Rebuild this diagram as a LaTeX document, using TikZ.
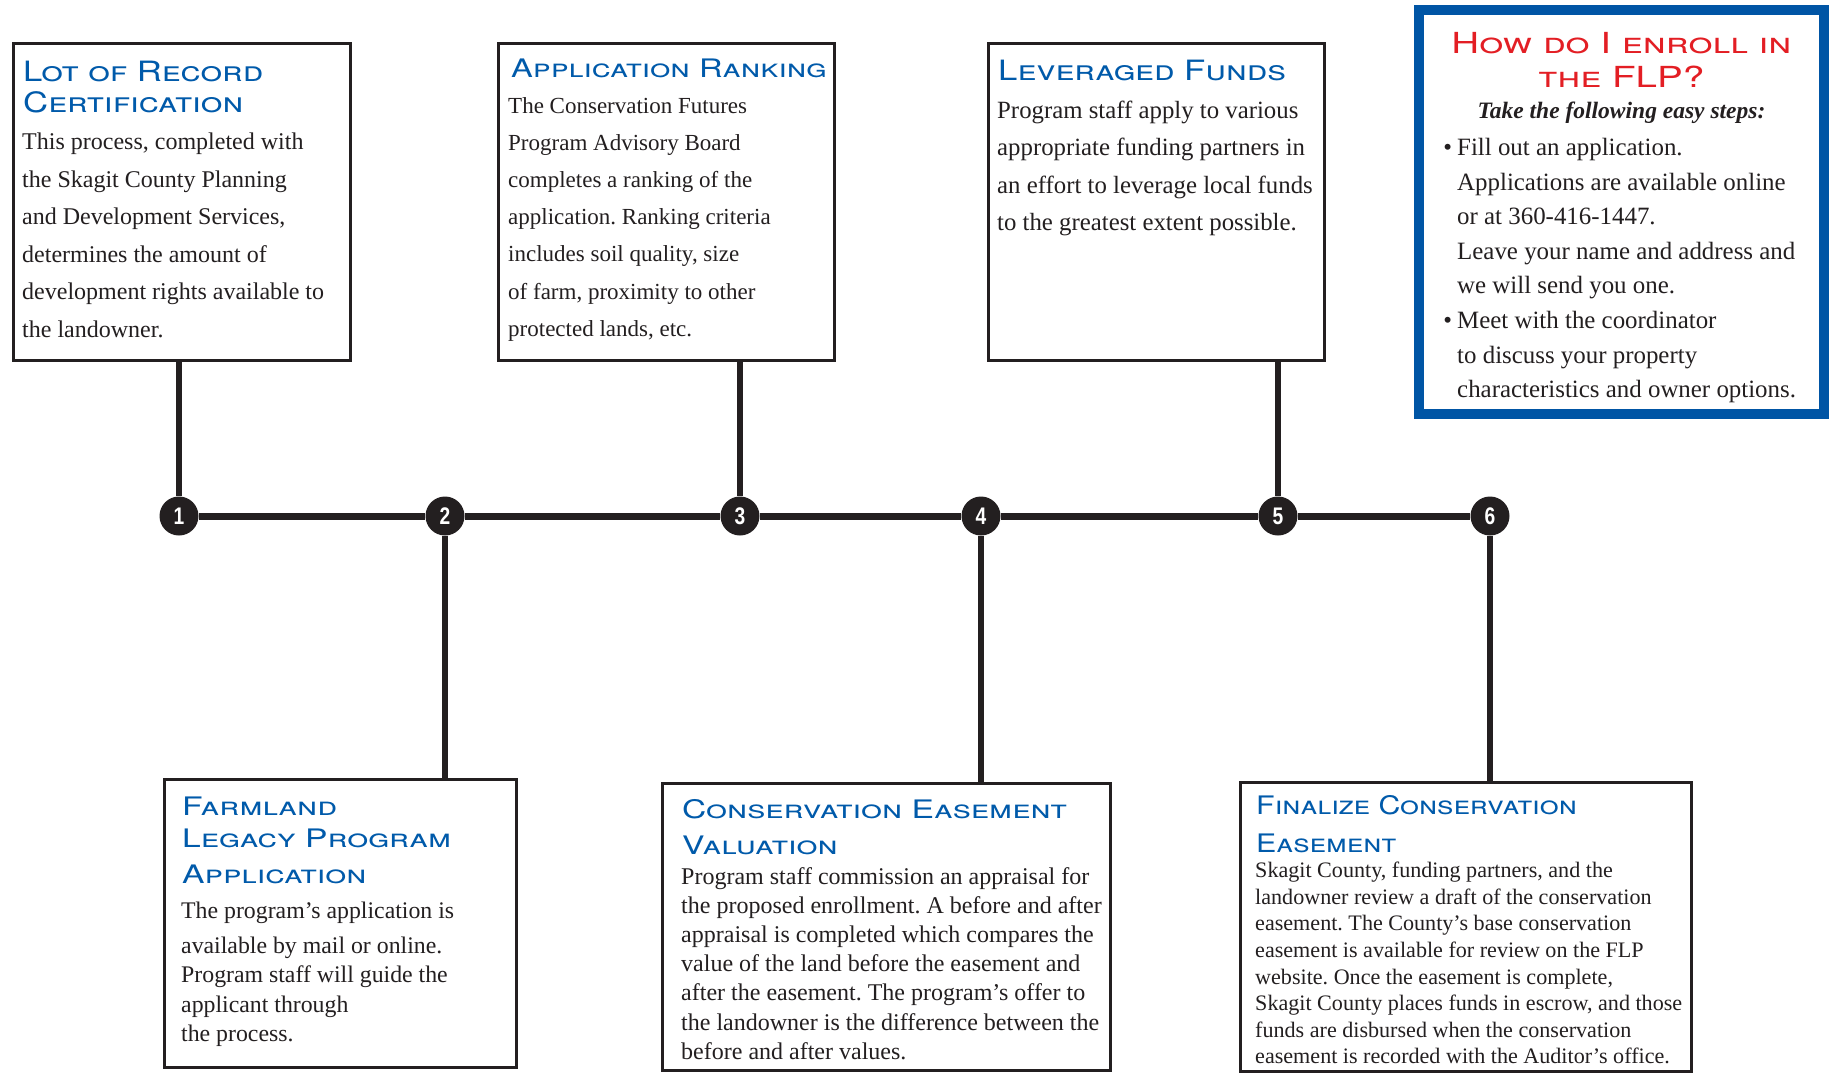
\documentclass[tikz,border=0pt]{standalone}
\usepackage{fontspec}
\setmainfont{Liberation Serif}
\newfontfamily\headfont{TeX Gyre Heros}
\newfontfamily\numfont[FakeStretch=0.8]{Liberation Sans}
\usetikzlibrary{positioning}

\definecolor{ink}{RGB}{35,31,32}
\definecolor{headblue}{RGB}{0,90,170}
\definecolor{flpblue}{RGB}{0,85,165}
\definecolor{flpred}{RGB}{227,30,36}

% wide small caps for the headings: stretch, size, line skip
\newcommand\headsc[3]{\headfont\addfontfeature{FakeStretch=#1}\scshape\fontsize{#2}{#3}\selectfont}

\tikzset{
  stepbox/.style={rectangle, draw=ink, line width=3pt, fill=white, inner sep=0pt},
  head/.style={anchor=north west, align=left, inner sep=0pt, text=headblue},
  body/.style={anchor=north west, align=left, inner sep=0pt, text=ink},
  dot/.style={circle, fill=ink, minimum size=39pt, inner sep=0pt, text=white,
    font=\numfont\bfseries\fontsize{24}{24}\selectfont},
  link/.style={draw=ink, line width=6pt},
}

\begin{document}
\frenchspacing
\begin{tikzpicture}[x=1pt, y=-1pt]
    \useasboundingbox (0,0) rectangle (1837,1077);

    % time line
    \foreach \n/\x in {1/179, 2/445, 3/740, 4/981, 5/1278, 6/1490}
        \node[dot] (c\n) at (\x,516) {\n};
    \foreach \a/\b in {1/2, 2/3, 3/4, 4/5, 5/6}
        \draw[link, line width=7pt] (c\a) -- (c\b);

    % boxes above
    \node[stepbox, minimum width=337pt, minimum height=317pt] (b1) at (182,202) {};
    \node[stepbox, minimum width=336pt, minimum height=317pt] (b3) at (666.5,202) {};
    \node[stepbox, minimum width=336pt, minimum height=317pt] (b5) at (1156.5,202) {};
    % boxes below
    \node[stepbox, minimum width=352pt, minimum height=288pt] (b2) at (340.5,923.5) {};
    \node[stepbox, minimum width=448pt, minimum height=287pt] (b4) at (886.5,927) {};
    \node[stepbox, minimum width=451pt, minimum height=289pt] (b6) at (1466,927) {};

    \foreach \n in {1,3,5} \draw[link] (c\n) -- (c\n |- b\n.south);
    \foreach \n in {2,4,6} \draw[link] (c\n) -- (c\n |- b\n.north);

    % 1
    \node[head, font=\headsc{1.24}{28}{31}] (h1) at (23,61)
        {Lot of Record\\Certification};
    \node[body, font=\fontsize{24}{37.5}\selectfont] (t1) at (22,133)
        {This process, completed with\\the Skagit County Planning\\and Development Services,\\
         determines the amount of\\development rights available to\\the landowner.};
    % 3
    \node[head, font=\headsc{1.28}{25.5}{31}] (h3) at (511,59)
        {Application Ranking};
    \node[body, font=\fontsize{23}{37.2}\selectfont] (t3) at (508,97)
        {The Conservation Futures\\Program Advisory Board\\completes a ranking of the\\
         application. Ranking criteria\\includes soil quality, size\\of farm, proximity to other\\
         protected lands, etc.};
    % 5
    \node[head, font=\headsc{1.24}{28}{31}] (h5) at (998,60)
        {Leveraged Funds};
    \node[body, font=\fontsize{24.8}{37.3}\selectfont] (t5) at (997,101)
        {Program staff apply to various\\appropriate funding partners in\\
         an effort to leverage local funds\\to the greatest extent possible.};
    % 2
    \node[head, font=\headsc{1.32}{25.5}{32}] (h2) at (182,797)
        {Farmland\\Legacy Program\\[4pt]Application};
    \node[body, font=\fontsize{23.8}{29.5}\selectfont] (t2) at (181,902)
        {The program's application is\\[5pt]available by mail or online.\\Program staff will guide the\\
         applicant through\\the process.};
    % 4
    \node[head, font=\headsc{1.32}{25.5}{36}] (h4) at (682,799)
        {Conservation Easement\\Valuation};
    \node[body, font=\fontsize{24}{29.2}\selectfont] (t4) at (681,867)
        {Program staff commission an appraisal for\\the proposed enrollment. A before and after\\
         appraisal is completed which compares the\\value of the land before the easement and\\
         after the easement. The program's offer to\\the landowner is the difference between the\\
         before and after values.};
    % 6
    \node[head, font=\headsc{1.19}{25.5}{38}] (h6) at (1256,795)
        {Finalize Conservation\\Easement};
    \node[body, font=\fontsize{22.1}{26.6}\selectfont] (t6) at (1255,862)
        {Skagit County, funding partners, and the\\landowner review a draft of the conservation\\
         easement. The County's base conservation\\easement is available for review on the FLP\\
         website. Once the easement is complete,\\Skagit County places funds in escrow, and those\\
         funds are disbursed when the conservation\\easement is recorded with the Auditor's office.};

    % how to enroll
    \node[rectangle, draw=flpblue, line width=10pt, fill=white, minimum width=405pt,
          minimum height=404pt] (flp) at (1621.5,212) {};
    \node[anchor=north, align=center, inner sep=0pt, text=flpred,
          font=\headsc{1.33}{29}{34}] (fh) at (1621.5,32)
        {How do I enroll in\\the FLP?};
    \node[anchor=north, inner sep=0pt, text=ink,
          font=\bfseries\itshape\fontsize{23.5}{34}\selectfont] (fs) at (1621.5,102)
        {Take the following easy steps:};
    \node[body, font=\fontsize{24.9}{34.6}\selectfont] (ft) at (1457,138)
        {\llap{\textbullet\hspace{5pt}}Fill out an application.\\Applications are available online\\
         or at 360-416-1447.\\Leave your name and address and\\we will send you one.\\
         \llap{\textbullet\hspace{5pt}}Meet with the coordinator\\to discuss your property\\
         characteristics and owner options.};
\end{tikzpicture}
\end{document}
